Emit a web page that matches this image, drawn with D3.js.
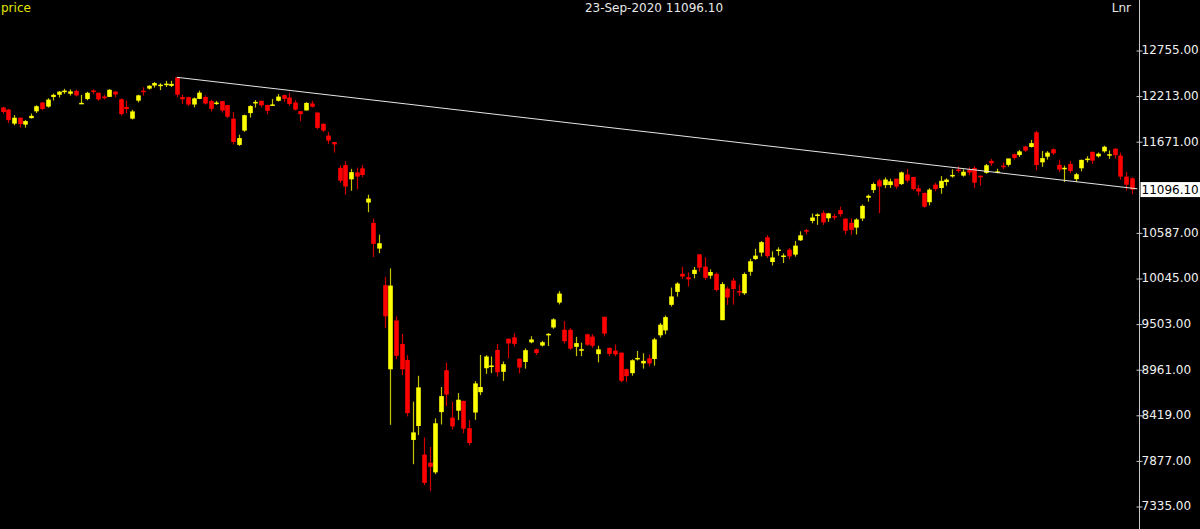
<!DOCTYPE html>
<html><head><meta charset="utf-8">
<script src="https://cdn.jsdelivr.net/npm/d3@7"></script>
<style>html,body{margin:0;padding:0;background:#000;overflow:hidden}</style>
</head><body>
<svg id="c" width="1200" height="529"></svg>
<script>
const dates = ["05-Dec-2019","06-Dec-2019","09-Dec-2019","10-Dec-2019","11-Dec-2019","12-Dec-2019","13-Dec-2019","16-Dec-2019","17-Dec-2019","18-Dec-2019","19-Dec-2019","20-Dec-2019","23-Dec-2019","24-Dec-2019","26-Dec-2019","27-Dec-2019","30-Dec-2019","31-Dec-2019",
"01-Jan-2020","02-Jan-2020","03-Jan-2020","06-Jan-2020","07-Jan-2020","08-Jan-2020","09-Jan-2020","10-Jan-2020","13-Jan-2020","14-Jan-2020","15-Jan-2020","16-Jan-2020","17-Jan-2020","20-Jan-2020","21-Jan-2020","22-Jan-2020","23-Jan-2020","24-Jan-2020","27-Jan-2020","28-Jan-2020","29-Jan-2020","30-Jan-2020","31-Jan-2020",
"01-Feb-2020","03-Feb-2020","04-Feb-2020","05-Feb-2020","06-Feb-2020","07-Feb-2020","10-Feb-2020","11-Feb-2020","12-Feb-2020","13-Feb-2020","14-Feb-2020","17-Feb-2020","18-Feb-2020","19-Feb-2020","20-Feb-2020","24-Feb-2020","25-Feb-2020","26-Feb-2020","27-Feb-2020","28-Feb-2020",
"02-Mar-2020","03-Mar-2020","04-Mar-2020","05-Mar-2020","06-Mar-2020","09-Mar-2020","11-Mar-2020","12-Mar-2020","13-Mar-2020","16-Mar-2020","17-Mar-2020","18-Mar-2020","19-Mar-2020","20-Mar-2020","23-Mar-2020","24-Mar-2020","25-Mar-2020","26-Mar-2020","27-Mar-2020","30-Mar-2020","31-Mar-2020",
"01-Apr-2020","03-Apr-2020","07-Apr-2020","08-Apr-2020","09-Apr-2020","13-Apr-2020","15-Apr-2020","16-Apr-2020","17-Apr-2020","20-Apr-2020","21-Apr-2020","22-Apr-2020","23-Apr-2020","24-Apr-2020","27-Apr-2020","28-Apr-2020","29-Apr-2020","30-Apr-2020",
"04-May-2020","05-May-2020","06-May-2020","07-May-2020","08-May-2020","11-May-2020","12-May-2020","13-May-2020","14-May-2020","15-May-2020","18-May-2020","19-May-2020","20-May-2020","21-May-2020","22-May-2020","26-May-2020","27-May-2020","28-May-2020","29-May-2020",
"01-Jun-2020","02-Jun-2020","03-Jun-2020","04-Jun-2020","05-Jun-2020","08-Jun-2020","09-Jun-2020","10-Jun-2020","11-Jun-2020","12-Jun-2020","15-Jun-2020","16-Jun-2020","17-Jun-2020","18-Jun-2020","19-Jun-2020","22-Jun-2020","23-Jun-2020","24-Jun-2020","25-Jun-2020","26-Jun-2020","29-Jun-2020","30-Jun-2020",
"01-Jul-2020","02-Jul-2020","03-Jul-2020","06-Jul-2020","07-Jul-2020","08-Jul-2020","09-Jul-2020","10-Jul-2020","13-Jul-2020","14-Jul-2020","15-Jul-2020","16-Jul-2020","17-Jul-2020","20-Jul-2020","21-Jul-2020","22-Jul-2020","23-Jul-2020","24-Jul-2020","27-Jul-2020","28-Jul-2020","29-Jul-2020","30-Jul-2020","31-Jul-2020",
"03-Aug-2020","04-Aug-2020","05-Aug-2020","06-Aug-2020","07-Aug-2020","10-Aug-2020","11-Aug-2020","12-Aug-2020","13-Aug-2020","14-Aug-2020","17-Aug-2020","18-Aug-2020","19-Aug-2020","20-Aug-2020","21-Aug-2020","24-Aug-2020","25-Aug-2020","26-Aug-2020","27-Aug-2020","28-Aug-2020","31-Aug-2020",
"01-Sep-2020","02-Sep-2020","03-Sep-2020","04-Sep-2020","07-Sep-2020","08-Sep-2020","09-Sep-2020","10-Sep-2020","11-Sep-2020","14-Sep-2020","15-Sep-2020","16-Sep-2020","17-Sep-2020","18-Sep-2020","21-Sep-2020","22-Sep-2020","23-Sep-2020"];

const opens = [12071,12047,11880,11950,11868,11945,12026,12131,12082,12197,12223,12272,12235,12269,12126,12172,12274,12247,
12202,12198,12261,12170,12079,11939,12153,12271,12296,12333,12330,12347,12329,12430,12195,12195,12107,12174,12197,12148,12114,12147,12100,
11939,11627,11797,12005,12120,12151,12102,12100,12151,12219,12190,12131,12028,12037,12119,12012,11877,11738,11661,11354,
11387,11218,11300,11349,10942,10700,10395,9960,8960,9540,9260,9070,8120,8286,7945,7849,7735,8451,8949,8385,8468,
8584,8260,8446,8688,8973,8990,9190,8930,9323,9340,9086,9047,9280,9197,9242,9370,9457,9753,
9430,9429,9227,9180,9376,9348,9140,9584,9214,9182,9158,8961,8914,9080,9030,9090,9082,9364,9422,
9726,9880,10094,10054,10093,10326,10181,10073,10094,9544,9919,10014,9890,9863,10119,10270,10347,10529,10235,10378,10311,10382,
10323,10493,10614,10723,10798,10818,10755,10780,10851,10750,10701,10644,10752,10999,11090,11205,11149,11150,11225,11161,11275,11246,11110,
11057,10946,11155,11115,11186,11265,11335,11262,11334,11353,11260,11295,11437,11300,11380,11390,11517,11506,11609,11602,11777,
11420,11487,11576,11390,11350,11400,11220,11349,11453,11545,11491,11550,11510,11582,11500,11250,11230];

const highs = [12081,12057,11981,11953,11923,12000,12098,12134,12182,12237,12268,12294,12287,12283,12222,12258,12286,12248,
12222,12289,12265,12179,12152,12044,12224,12311,12337,12374,12360,12389,12389,12430,12225,12200,12190,12272,12216,12163,12150,12150,12103,
12017,11749,11986,12098,12160,12154,12103,12172,12231,12225,12246,12159,12030,12134,12152,12012,11884,11783,11663,11384,
11433,11342,11357,11389,11035,10752,10560,10060,10159,9590,9380,9127,8575,8883,8150,8036,8376,8749,9039,8576,8678,
8588,8356,8819,9131,9128,9113,9261,9053,9324,9390,9088,9208,9353,9206,9298,9390,9567,9889,
9533,9450,9346,9277,9382,9379,9240,9584,9221,9255,9158,8967,9079,9178,9150,9135,9334,9511,9599,
9931,9995,10177,10112,10177,10328,10291,10148,10112,9996,9943,10046,9966,10111,10272,10393,10484,10553,10362,10409,10337,10401,
10486,10599,10631,10811,10813,10847,10819,10808,10894,10755,10755,10755,10918,11037,11180,11225,11240,11225,11225,11310,11342,11248,11150,
11058,11112,11176,11256,11231,11337,11373,11337,11359,11373,11265,11400,11460,11344,11418,11460,11524,11568,11618,11686,11794,
11554,11553,11584,11452,11381,11437,11294,11452,11493,11546,11537,11618,11561,11586,11535,11305,11240];

const lows = [11998,11888,11860,11833,11832,11941,12006,12039,12070,12155,12191,12234,12213,12202,12119,12157,12229,12151,
12165,12195,12192,11974,12005,11929,12133,12213,12285,12308,12278,12315,12315,12193,12114,12087,12073,12171,12107,12024,12103,12010,11945,
11633,11614,11783,11953,12071,12073,11990,12099,12144,12139,12092,12037,11908,12036,12071,11813,11779,11639,11536,11175,
11036,11082,11100,11243,10827,10294,10340,9450,8300,9080,8890,8400,7832,8178,7583,7511,7714,8304,8522,8244,8358,
8198,8055,8360,8653,8905,8914,8874,8822,9089,9230,8910,8968,9269,9129,9231,9237,9441,9731,
9266,9190,9116,9116,9238,9215,9043,9351,9117,9113,8806,8809,8884,9065,8968,8996,9004,9336,9377,
9706,9824,10035,9944,10040,10120,10021,10036,9885,9544,9726,9728,9833,9845,10072,10260,10301,10282,10194,10311,10223,10267,
10299,10485,10562,10695,10677,10676,10713,10737,10775,10563,10558,10562,10723,10953,11056,10815,11113,11116,11106,11151,11180,11085,11026,
10882,10908,11075,11046,11142,11238,11299,11250,11265,11112,11144,11285,11376,11289,11339,11370,11452,11484,11541,11597,11325,
11366,11452,11507,11303,11185,11290,11185,11312,11419,11402,11477,11534,11461,11465,11214,11085,11040];

const closes = [12018,11922,11950,11875,11910,11972,12087,12054,12165,12222,12260,12272,12263,12215,12127,12246,12256,12168,
12182,12282,12227,11993,12053,12025,12216,12257,12330,12362,12343,12355,12352,12224,12170,12107,12180,12248,12119,12056,12130,12036,11962,
11662,11708,11980,12089,12138,12098,12032,12108,12201,12175,12113,12046,11993,12126,12081,11829,11798,11679,11633,11202,
11133,11303,11251,11269,10989,10451,10458,9590,9955,9120,8960,8440,8210,8745,7610,7801,8318,8641,8660,8281,8598,
8254,8084,8792,8749,9112,9005,8925,9020,9267,9262,8982,9187,9314,9154,9282,9381,9553,9860,
9294,9206,9271,9199,9252,9239,9197,9384,9143,9137,8823,8879,9067,9095,9060,9029,9315,9490,9580,
9826,9979,10062,10029,10142,10168,10047,10116,9902,9973,9814,9914,9881,10092,10244,10311,10471,10305,10289,10383,10312,10302,
10430,10552,10607,10764,10800,10706,10813,10768,10803,10607,10618,10740,10902,11022,11162,11133,11215,11194,11132,11300,11203,11102,11073,
10892,11095,11102,11200,11214,11270,11322,11308,11300,11178,11247,11385,11408,11312,11372,11466,11472,11550,11559,11648,11388,
11470,11535,11528,11334,11355,11317,11278,11449,11464,11440,11522,11605,11516,11505,11251,11154,11096.1];

const yTicks = [12755, 12213, 11671, 10587, 10045, 9503, 8961, 8419, 7877, 7335];
const trendIdx = [31, 202];
const trendVal = [12430.5, 11105];
const lastDate = "23-Sep-2020";
const lastPrice = 11096.10;

const W = 1200, H = 529;
const svg = d3.select("#c");
svg.append("rect").attr("width", W).attr("height", H).attr("fill", "#000");

const n = dates.length;
const x = d3.scaleLinear().domain([0, n - 1]).range([2.7, 1131.7]);
const y = d3.scaleLinear().domain([7335, 12755]).range([506, 50]);

const candles = dates.map((d, i) => ({d, i, o: opens[i], h: highs[i], l: lows[i], c: closes[i]}));

const g = svg.append("g");
const cg = g.selectAll("g.cd").data(candles).join("g").attr("class", "cd");
cg.append("line")
  .attr("x1", d => Math.round(x(d.i)) + 0.5).attr("x2", d => Math.round(x(d.i)) + 0.5)
  .attr("y1", d => y(d.h)).attr("y2", d => y(d.l))
  .attr("stroke", d => d.c >= d.o ? "#c4c400" : "#d00000").attr("stroke-width", 1.2);
cg.append("rect")
  .attr("x", d => Math.round(x(d.i)) + 0.5 - 2.3)
  .attr("width", 4.6)
  .attr("y", d => Math.min(y(d.o), y(d.c)))
  .attr("height", d => Math.max(1.5, Math.abs(y(d.o) - y(d.c))))
  .attr("fill", d => d.c >= d.o ? "#ffff00" : "#ff0000");

// trend line
svg.append("line")
  .attr("x1", x(trendIdx[0])).attr("y1", y(trendVal[0]))
  .attr("x2", x(trendIdx[1])).attr("y2", y(trendVal[1]))
  .attr("stroke", "#e6e6e6").attr("stroke-width", 1);

// right axis
const axX = 1139.5;
svg.append("line").attr("x1", axX).attr("x2", axX).attr("y1", 0).attr("y2", H)
  .attr("stroke", "#c8c8c8").attr("stroke-width", 1);
const ax = d3.axisRight(y).tickValues(yTicks).tickFormat(d3.format(".2f")).tickSize(0).tickPadding(2);
const axG = svg.append("g").attr("transform", `translate(${axX},0)`).call(ax);
axG.select(".domain").remove();
axG.selectAll("text").attr("fill", "#f0f0f0").attr("font-family", "DejaVu Sans, Verdana, sans-serif").attr("font-size", 12);
axG.selectAll(".tick").append("line").attr("x1", -3).attr("x2", 3).attr("y1", 0.5).attr("y2", 0.5)
  .attr("stroke", "#c8c8c8");

// last price box
const yl = y(lastPrice);
svg.append("rect").attr("x", axX + 1).attr("y", yl - 7.5).attr("width", W - axX - 1).attr("height", 15).attr("fill", "#fff");
svg.append("text").attr("x", axX + 2).attr("y", yl).attr("dy", "0.35em")
  .attr("fill", "#000").attr("font-family", "DejaVu Sans, Verdana, sans-serif").attr("font-size", 12)
  .text(d3.format(".2f")(lastPrice));

// header texts
svg.append("text").attr("x", 1).attr("y", 12).attr("fill", "#e2e600")
  .attr("font-family", "DejaVu Sans, Verdana, sans-serif").attr("font-size", 12).text("price");
svg.append("text").attr("x", 654).attr("y", 12).attr("text-anchor", "middle").attr("fill", "#e8e8e8")
  .attr("font-family", "DejaVu Sans, Verdana, sans-serif").attr("font-size", 12)
  .text(lastDate + " " + d3.format(".2f")(lastPrice));
svg.append("text").attr("x", 1131).attr("y", 12).attr("text-anchor", "end").attr("fill", "#e8e8e8")
  .attr("font-family", "DejaVu Sans, Verdana, sans-serif").attr("font-size", 12).text("Lnr");
</script>
</body></html>
